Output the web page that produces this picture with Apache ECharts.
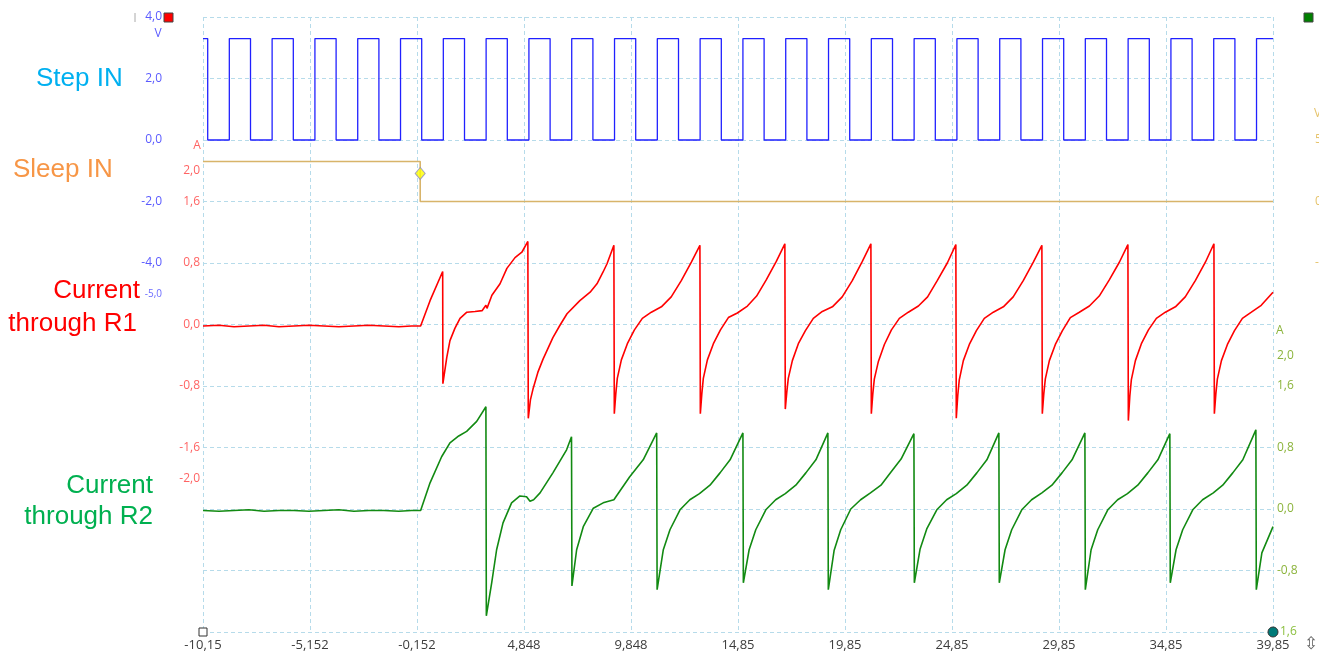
<!DOCTYPE html>
<html>
<head>
<meta charset="utf-8">
<script src="https://cdn.jsdelivr.net/npm/echarts@6.0.0/dist/echarts.min.js"></script>
<style>
html,body{margin:0;padding:0;background:#ffffff;}
#chart{width:1329px;height:656px;}
</style>
</head>
<body>
<div id="chart"></div>
<script>
// ---------- data ----------
const timeMin = -10.15;
const timeMax = 39.85;
const xTickLabels = ['-10,15','-5,152','-0,152','4,848','9,848','14,85','19,85','24,85','29,85','34,85','39,85'];

const blueTicks = [4, 2, 0, -2, -4, -5];
const redTicks = [2, 1.6, 0.8, 0, -0.8, -1.6, -2];
const greenTicks = [2, 1.6, 0.8, 0, -0.8];
const sleepTicks = [5, 0, -5];

// Step IN: edge times (alternating falling / rising), levels high / low (V)
const stepEdgeTimes = [-9.93,-8.92,-7.93,-6.92,-5.93,-4.92,-3.93,-2.92,-1.93,-0.92,
  0.07,1.08,2.07,3.08,4.07,5.08,6.07,7.08,8.07,9.08,
  10.07,11.08,12.07,13.08,14.07,15.08,16.07,17.08,18.07,19.08,
  20.07,21.08,22.07,23.08,24.07,25.08,26.07,27.08,28.07,29.08,
  30.07,31.08,32.07,33.08,34.07,35.08,36.07,37.08,38.07,39.08];
const stepLevels = [3.3, 0.0];

// Sleep IN (V)
const sleepTrace = [[-10.15,3.25],[0.0,3.25],[0.0,0.0],[39.85,0.0]];
const cursorPoint = [0.0, 2.28];

// Current through R1 (A)
const redTrace = [
[-10.15,-0.02],[-9.40,-0.01],[-8.70,-0.03],[-8.00,-0.02],[-7.30,-0.01],[-6.60,-0.03],[-5.90,-0.02],[-5.20,-0.01],[-4.50,-0.02],[-3.80,-0.03],[-3.10,-0.02],[-2.40,-0.01],[-1.70,-0.02],[-1.00,-0.03],[-0.40,-0.02],[0.02,-0.02],
[0.46,0.31],[1.05,0.69],
[1.06,-0.77],[1.24,-0.43],[1.39,-0.21],[1.62,-0.05],[1.86,0.08],[2.18,0.16],[2.56,0.17],[2.89,0.18],[3.07,0.25],[3.12,0.21],[3.35,0.38],[3.73,0.53],[4.05,0.73],[4.43,0.87],[4.75,0.94],[5.03,1.08],
[5.05,-1.22],[5.15,-0.98],[5.27,-0.84],[5.50,-0.62],[5.74,-0.45],[6.20,-0.17],[6.53,-0.01],[6.86,0.14],[7.46,0.31],[7.94,0.42],[8.26,0.53],[8.54,0.68],[8.73,0.79],[9.05,1.03],
[9.07,-1.16],[9.14,-0.90],[9.21,-0.70],[9.40,-0.46],[9.68,-0.25],[10.01,-0.07],[10.38,0.08],[10.80,0.16],[11.27,0.23],[11.73,0.36],[12.20,0.57],[12.67,0.81],[13.07,1.03],
[13.09,-1.16],[13.16,-0.90],[13.23,-0.70],[13.42,-0.46],[13.70,-0.25],[14.03,-0.07],[14.40,0.09],[14.82,0.15],[15.29,0.24],[15.72,0.37],[16.17,0.58],[16.64,0.82],[17.04,1.05],
[17.06,-1.10],[17.13,-0.88],[17.20,-0.70],[17.39,-0.47],[17.67,-0.25],[18.00,-0.08],[18.37,0.08],[18.79,0.17],[19.26,0.23],[19.72,0.36],[20.19,0.57],[20.66,0.82],[21.06,1.05],
[21.08,-1.16],[21.15,-0.90],[21.22,-0.71],[21.41,-0.48],[21.69,-0.26],[22.02,-0.07],[22.39,0.08],[22.81,0.16],[23.28,0.24],[23.71,0.36],[24.16,0.57],[24.63,0.80],[25.03,1.04],
[25.05,-1.22],[25.12,-0.92],[25.19,-0.72],[25.38,-0.47],[25.66,-0.26],[25.99,-0.08],[26.36,0.08],[26.78,0.16],[27.25,0.23],[27.71,0.36],[28.18,0.57],[28.65,0.81],[29.05,1.03],
[29.07,-1.16],[29.14,-0.90],[29.21,-0.71],[29.40,-0.47],[29.68,-0.26],[30.01,-0.08],[30.38,0.09],[30.80,0.16],[31.27,0.24],[31.73,0.37],[32.20,0.58],[32.67,0.81],[33.07,1.04],
[33.09,-1.25],[33.16,-0.93],[33.23,-0.72],[33.42,-0.47],[33.70,-0.25],[34.03,-0.07],[34.40,0.08],[34.82,0.16],[35.29,0.23],[35.75,0.36],[36.22,0.57],[36.69,0.81],[37.09,1.05],
[37.11,-1.16],[37.18,-0.90],[37.25,-0.71],[37.44,-0.47],[37.72,-0.26],[38.05,-0.08],[38.42,0.08],[38.84,0.16],[39.30,0.25],[39.85,0.42]
];

// Current through R2 (A)
const greenTrace = [
[-10.15,-0.02],[-9.40,-0.03],[-8.70,-0.02],[-8.00,-0.01],[-7.30,-0.03],[-6.60,-0.02],[-5.90,-0.02],[-5.20,-0.03],[-4.50,-0.02],[-3.80,-0.01],[-3.10,-0.03],[-2.40,-0.02],[-1.70,-0.02],[-1.00,-0.03],[-0.40,-0.02],[0.02,-0.02],
[0.46,0.34],[1.00,0.68],[1.39,0.86],[1.80,0.95],[2.17,1.01],[2.64,1.14],[3.07,1.33],
[3.09,-1.39],[3.34,-0.96],[3.57,-0.53],[3.87,-0.18],[4.27,0.08],[4.66,0.17],[4.97,0.16],[5.13,0.10],[5.30,0.12],[5.60,0.21],[6.20,0.47],[6.84,0.77],[7.07,0.94],
[7.09,-1.00],[7.31,-0.53],[7.62,-0.23],[8.09,0.01],[8.55,0.08],[9.05,0.12],[9.12,0.10],[9.79,0.42],[10.42,0.64],[11.05,0.99],
[11.07,-1.05],[11.36,-0.53],[11.67,-0.27],[12.14,-0.01],[12.60,0.12],[13.05,0.20],[13.12,0.18],[13.54,0.31],[14.01,0.47],[14.48,0.64],[15.08,0.99],
[15.10,-0.96],[15.37,-0.53],[15.68,-0.27],[16.15,-0.01],[16.61,0.12],[17.06,0.20],[17.13,0.18],[17.55,0.31],[18.02,0.47],[18.49,0.64],[19.05,0.99],
[19.07,-1.05],[19.34,-0.54],[19.65,-0.27],[20.12,0.00],[20.58,0.12],[21.04,0.21],[21.11,0.19],[21.53,0.31],[22.00,0.48],[22.47,0.65],[23.07,0.98],
[23.09,-0.96],[23.36,-0.52],[23.67,-0.26],[24.14,-0.01],[24.60,0.12],[25.05,0.20],[25.12,0.18],[25.54,0.31],[26.01,0.47],[26.48,0.64],[27.04,0.99],
[27.06,-0.96],[27.33,-0.53],[27.64,-0.27],[28.11,-0.01],[28.57,0.12],[29.05,0.21],[29.12,0.19],[29.52,0.31],[29.99,0.47],[30.46,0.64],[31.06,0.99],
[31.08,-1.05],[31.35,-0.53],[31.66,-0.27],[32.13,-0.01],[32.59,0.12],[33.05,0.20],[33.12,0.18],[33.53,0.31],[34.00,0.47],[34.47,0.64],[35.03,0.98],
[35.05,-0.96],[35.32,-0.53],[35.63,-0.27],[36.10,-0.01],[36.56,0.12],[37.06,0.21],[37.13,0.19],[37.50,0.31],[37.97,0.47],[38.44,0.64],[39.05,1.03],
[39.07,-1.05],[39.33,-0.57],[39.85,-0.23]
];

// ---------- build ----------
const stepData = [[timeMin, stepLevels[0]]];
let lvl = 0;
stepEdgeTimes.forEach(function (t) {
  stepData.push([t, stepLevels[lvl]]);
  lvl = 1 - lvl;
  stepData.push([t, stepLevels[lvl]]);
});
stepData.push([timeMax, stepLevels[lvl]]);

const fmt = v => Number(v).toFixed(1).replace('.', ',');
const labelFont = '"Open Sans", "Noto Sans", sans-serif';
const titleFont = '"Liberation Sans", Arial, sans-serif';
const gridColor = '#b6dbea';

function sideAxis(pos, offset, min, max, ticks, color, margin, extra) {
  const ax = {
    type: 'value', position: pos, offset: offset, min: min, max: max,
    axisLine: {show: false, onZero: false}, axisTick: {show: false}, splitLine: {show: false},
    axisLabel: {customValues: ticks, margin: margin, color: color, fontSize: 12, fontFamily: labelFont,
      formatter: fmt, showMinLabel: true, showMaxLabel: true}
  };
  if (extra) Object.assign(ax.axisLabel, extra);
  return ax;
}

function txt(x, y, text, size, color, align, font, vAlign) {
  return {type: 'text', x: x, y: y, z: 100, silent: true,
    style: {text: text, font: size + 'px ' + (font || labelFont), fill: color,
      align: align || 'left', textAlign: align || 'left',
      verticalAlign: vAlign || 'middle', textVerticalAlign: vAlign || 'middle'}};
}

const chart = echarts.init(document.getElementById('chart'), null, {renderer: 'canvas'});
chart.setOption({
  animation: false,
  backgroundColor: '#ffffff',
  grid: {left: 203, top: 17, width: 1070, height: 615, containLabel: false, outerBoundsMode: 'none'},
  xAxis: {
    type: 'value', min: timeMin, max: timeMax, interval: 5,
    axisLine: {show: false, onZero: false}, axisTick: {show: false},
    axisLabel: {color: '#3c3c3c', fontSize: 13, fontFamily: labelFont, margin: 7,
      showMinLabel: true, showMaxLabel: true,
      formatter: function (v, i) { return xTickLabels[i] !== undefined ? xTickLabels[i] : fmt(v); }},
    splitLine: {show: true, lineStyle: {color: gridColor, type: [4, 3], width: 1}}
  },
  yAxis: [
    {type: 'value', position: 'left', min: 0, max: 10, interval: 1,
      axisLine: {show: false, onZero: false}, axisTick: {show: false}, axisLabel: {show: false},
      splitLine: {show: true, lineStyle: {color: gridColor, type: [4, 3], width: 1}}},
    sideAxis('left', 38, -16, 4, blueTicks, '#5b5bff', 3, {
      formatter: function (v) { return v === -5 ? '{s|-5,0}' : fmt(v); },
      rich: {s: {fontSize: 10, color: '#6b6bff', fontFamily: labelFont}}}),
    sideAxis('left', 0, -4, 4, redTicks, '#ff6464', 3),
    sideAxis('right', 0, -1.6, 6.4, greenTicks, '#8cb43c', 4),
    sideAxis('right', 38, -35, 15, sleepTicks, '#e6c36a', 4)
  ],
  series: [
    {type: 'line', name: 'Step IN', yAxisIndex: 1, data: stepData, symbol: 'none',
      lineStyle: {color: '#2020ff', width: 1.3}},
    {type: 'line', name: 'Sleep IN', yAxisIndex: 4, data: sleepTrace, symbol: 'none',
      lineStyle: {color: '#d8b46a', width: 1.6}},
    {type: 'line', name: 'R1', yAxisIndex: 2, data: redTrace, symbol: 'none',
      lineStyle: {color: '#ff0000', width: 1.6}},
    {type: 'line', name: 'R2', yAxisIndex: 3, data: greenTrace, symbol: 'none',
      lineStyle: {color: '#128a12', width: 1.6}},
    {type: 'scatter', name: 'cursor', yAxisIndex: 4, data: [cursorPoint], symbol: 'diamond',
      symbolSize: [10, 12], itemStyle: {color: '#ffff00', borderColor: '#8a8ac8', borderWidth: 1}, z: 5}
  ],
  graphic: {elements: [
    txt(36, 78.5, 'Step IN', 26, '#00b0f0', 'left', titleFont),
    txt(13, 170, 'Sleep IN', 26, '#f79646', 'left', titleFont),
    txt(140, 291, 'Current', 26, '#ff0000', 'right', titleFont),
    txt(137, 323.5, 'through R1', 26, '#ff0000', 'right', titleFont),
    txt(153, 486, 'Current', 26, '#00b050', 'right', titleFont),
    txt(153, 517, 'through R2', 26, '#00b050', 'right', titleFont),
    txt(158, 34, 'V', 12, '#5b5bff', 'center'),
    txt(197, 146, 'A', 12, '#ff6464', 'center'),
    txt(1276, 331, 'A', 12, '#8cb43c', 'left'),
    txt(1314, 114, 'V', 12, '#e6c36a', 'left'),
    {type: 'rect', z: 101, silent: true, shape: {x: 1319, y: 95, width: 10, height: 190}, style: {fill: '#ffffff'}},
    {type: 'rect', z: 100, silent: true, shape: {x: 164, y: 13, width: 9, height: 9}, style: {fill: '#ff0000', stroke: '#444444', lineWidth: 1}},
    {type: 'rect', z: 100, silent: true, shape: {x: 1304, y: 13, width: 9, height: 9}, style: {fill: '#008000', stroke: '#444444', lineWidth: 1}},
    {type: 'line', z: 100, silent: true, shape: {x1: 135, y1: 13, x2: 135, y2: 22}, style: {stroke: '#aaaaaa', lineWidth: 1}},
    {type: 'rect', z: 100, silent: true, shape: {x: 199, y: 628, width: 8, height: 8}, style: {fill: '#ffffff', stroke: '#333333', lineWidth: 1}},
    {type: 'circle', z: 100, silent: true, shape: {cx: 1273, cy: 632, r: 5}, style: {fill: '#007a78', stroke: '#333333', lineWidth: 1}},
    txt(1280, 632, '1,6', 12, '#8cc040', 'left'),
    txt(1311, 645, '⇳', 17, '#666666', 'center', '"DejaVu Sans", sans-serif')
  ]}
});
</script>
</body>
</html>
